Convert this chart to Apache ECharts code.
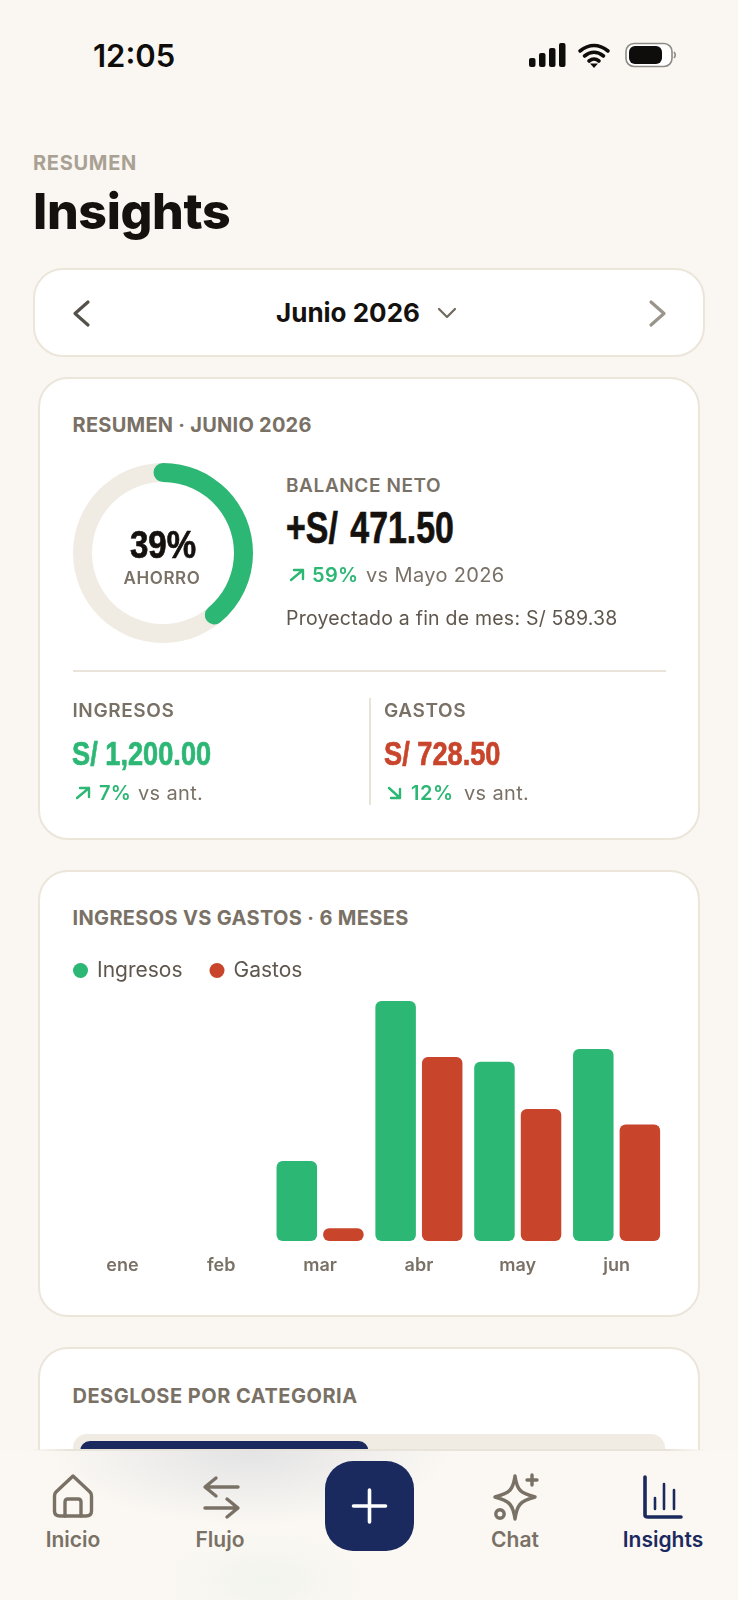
<!DOCTYPE html>
<html lang="es">
<head>
<meta charset="utf-8">
<title>Insights</title>
<script src="https://cdn.jsdelivr.net/npm/echarts@6/dist/echarts.min.js"></script>
<style>
  html, body { margin: 0; padding: 0; background: #faf7f2; }
  #page { position: relative; width: 738px; height: 1600px; overflow: hidden; background: #faf7f2; font-family: Inter, sans-serif; }
  .t { position: absolute; line-height: 1; white-space: nowrap; color: #7a7166; }
  .caps { font-size: 20px; font-weight: 700; letter-spacing: 0.25px; }
  .small { font-size: 19px; font-weight: 600; letter-spacing: 0.6px; }
  .delta { font-size: 20px; font-weight: 600; color: #2db775; letter-spacing: 0.3px; }
  .vs { font-size: 20px; font-weight: 400; letter-spacing: 0.35px; }
  .num { font-family: "Liberation Sans", sans-serif; font-weight: 700; transform-origin: left center; -webkit-text-stroke: 0.7px currentColor; }
  .card { position: absolute; box-sizing: border-box; background: #fff; border: 2px solid #ebe5da; border-radius: 30px; }
  .nav-label { font-size: 21px; font-weight: 600; transform: translateX(-50%); }
  svg { position: absolute; overflow: visible; fill: none; }
  #nav { position: absolute; left: 0; top: 1450px; width: 738px; height: 150px;
    background:
      radial-gradient(ellipse 200px 75px at 250px 0px, rgba(226,226,228,.95), rgba(226,226,228,0) 100%),
      radial-gradient(ellipse 100px 50px at 265px 130px, rgba(236,241,234,.6), rgba(236,241,234,0) 100%),
      #fbf8f3; }
  #nav-line { position: absolute; left: 28px; top: 1449px; width: 680px; height: 2px;
    background: linear-gradient(90deg, rgba(233,228,218,0), #e9e4da 6%, #e9e4da 94%, rgba(233,228,218,0)); }
</style>
</head>
<body>
<div id="page">
  <div class="t" style="left:93px;top:40px;font-size:31px;font-weight:600;color:#0f0d0b">12:05</div>
  <svg style="left:529px;top:43px" width="150" height="26">
    <rect x="0" y="15" width="6.5" height="9" rx="2" fill="#0f0d0b"/>
    <rect x="10" y="10" width="6.5" height="14" rx="2" fill="#0f0d0b"/>
    <rect x="20" y="5" width="6.5" height="19" rx="2" fill="#0f0d0b"/>
    <rect x="30" y="0" width="6.5" height="24" rx="2" fill="#0f0d0b"/>
    <path d="M51 8 Q65 -3 79 8 M55.5 13 Q65 5.5 74.5 13 M60 18 Q65 14 70 18" stroke="#0f0d0b" stroke-width="3.6" stroke-linecap="round"/>
    <path d="M61 20.5 L69 20.5 L65 25 Z" fill="#0f0d0b"/>
    <rect x="97" y="0.5" width="46" height="23" rx="8" stroke="#8e8a84" stroke-width="1.6" fill="#fff"/>
    <rect x="100" y="3" width="33" height="18" rx="6" fill="#0f0d0b"/>
    <path d="M145 9 Q147.5 12 145 15" stroke="#8e8a84" stroke-width="1.6"/>
  </svg>

  <div class="t" style="left:33px;top:153px;font-size:20px;font-weight:700;color:#a9a194;letter-spacing:.7px">RESUMEN</div>
  <div class="t" style="left:33px;top:186px;font-size:50px;font-weight:800;color:#15110e;letter-spacing:-.35px">Insights</div>

  <div class="card" style="left:33px;top:268px;width:672px;height:89px"></div>
  <svg style="left:0;top:0" width="738" height="360">
    <path d="M88 302 L75 313.5 L88 325" stroke="#55504a" stroke-width="3.2" stroke-linecap="round" stroke-linejoin="round"/>
    <path d="M651 302 L664 313.5 L651 325" stroke="#9a948a" stroke-width="3.2" stroke-linecap="round" stroke-linejoin="round"/>
    <path d="M439 309 L447 317 L455 309" stroke="#6f685e" stroke-width="2.2" stroke-linecap="round" stroke-linejoin="round"/>
  </svg>
  <div class="t" style="left:276px;top:300px;font-size:26px;font-weight:700;color:#15110e">Junio 2026</div>

  <!-- resumen -->
  <div class="card" style="left:38px;top:377px;width:662px;height:463px"></div>
  <div class="t caps" style="left:72.5px;top:415px">RESUMEN · JUNIO 2026</div>
  <div id="donut" style="position:absolute;left:63px;top:453px;width:200px;height:200px"></div>
  <div class="t num" style="left:63px;width:200px;text-align:center;top:526px;font-size:38px;color:#15110e;transform-origin:center;transform:scaleX(.87)">39%</div>
  <div class="t" style="left:62px;width:200px;text-align:center;top:570px;font-size:17px;font-weight:600;letter-spacing:.6px">AHORRO</div>
  <div class="t small" style="left:286px;top:476px">BALANCE NETO</div>
  <div class="t num" style="left:286px;top:506px;font-size:44px;color:#15110e;word-spacing:4px;transform:scaleX(.77)">+S/ 471.50</div>
  <svg style="left:0;top:0" width="738" height="830">
    <path d="M291 580 L303 570 M294 570 L303 570 L303 579" stroke="#2db775" stroke-width="2.4" stroke-linecap="round" stroke-linejoin="round"/>
    <path d="M77 798 L89 788 M80 788 L89 788 L89 797" stroke="#2db775" stroke-width="2.4" stroke-linecap="round" stroke-linejoin="round"/>
    <path d="M389 788 L400 798 M400 789 L400 798 L391 798" stroke="#2db775" stroke-width="2.4" stroke-linecap="round" stroke-linejoin="round"/>
  </svg>
  <div class="t delta" style="left:312px;top:565px">59%</div>
  <div class="t vs" style="left:366px;top:565px">vs Mayo 2026</div>
  <div class="t" style="left:286px;top:609px;font-size:19.5px;color:#5f574d;letter-spacing:.22px">Proyectado a fin de mes: S/ 589.38</div>
  <div style="position:absolute;left:72.5px;top:670px;width:593.5px;height:2px;background:#e9e4da"></div>
  <div style="position:absolute;left:369px;top:698px;width:1.5px;height:107px;background:#e9e4da"></div>
  <div class="t small" style="left:72.5px;top:701px">INGRESOS</div>
  <div class="t small" style="left:384px;top:701px">GASTOS</div>
  <div class="t num" style="left:72px;top:736px;font-size:34px;color:#2db775;transform:scaleX(.8)">S/ 1,200.00</div>
  <div class="t num" style="left:384px;top:736px;font-size:34px;color:#c8452c;transform:scaleX(.8)">S/ 728.50</div>
  <div class="t delta" style="left:99px;top:783px">7%</div>
  <div class="t vs" style="left:138px;top:783px">vs ant.</div>
  <div class="t delta" style="left:411px;top:783px;letter-spacing:.6px">12%</div>
  <div class="t vs" style="left:464px;top:783px">vs ant.</div>

  <!-- barras -->
  <div class="card" style="left:38px;top:870px;width:662px;height:447px"></div>
  <div class="t caps" style="left:72.5px;top:908px;letter-spacing:.34px">INGRESOS VS GASTOS · 6 MESES</div>
  <div id="bars" style="position:absolute;left:39px;top:940px;width:661px;height:360px"></div>

  <!-- categorias -->
  <div class="card" style="left:38px;top:1347px;width:662px;height:300px"></div>
  <div class="t caps" style="left:72.5px;top:1386px;letter-spacing:.5px">DESGLOSE POR CATEGORIA</div>
  <div style="position:absolute;left:73px;top:1434px;width:592px;height:60px;border-radius:14px;background:#f0ece4"></div>
  <div id="share" style="position:absolute;left:80px;top:1441px;width:577px;height:40px"></div>

  <div id="nav"></div>
  <div id="nav-line"></div>
  <svg style="left:0;top:1460px" width="738" height="70" stroke="#7a7166" stroke-width="3.4" stroke-linecap="round" stroke-linejoin="round">
    <path d="M73 16 L56 32 Q54.5 33.5 54.5 36 L54.5 51 Q54.5 56 60 56 L86 56 Q91.5 56 91.5 51 L91.5 36 Q91.5 33.5 90 32 Z"/>
    <path d="M65 56 L65 42 Q65 39 68 39 L78 39 Q81 39 81 42 L81 56"/>
    <path d="M238 27 L206 27 M216 18 L205 27 L216 36"/>
    <path d="M205 48 L237 48 M227 39 L238 48 L227 57"/>
    <path d="M515 16 C517 30 520 33 535 37 C520 41 517 45 515 59 C513 45 510 41 495 37 C510 33 513 30 515 16 Z"/>
    <path d="M532 15 L532 25 M527 20 L537 20"/>
    <circle cx="500" cy="54" r="4.2"/>
    <g stroke="#1b2a5e">
      <path d="M645 17 L645 55 Q645 57 648 57 L681 57" stroke-width="3.6"/>
      <path d="M655 38 L655 49 M664 24 L664 49 M674 30 L674 49" stroke-width="2.6"/>
    </g>
  </svg>
  <div style="position:absolute;left:325px;top:1461px;width:89px;height:90px;border-radius:28px;background:#1b2a5e"></div>
  <svg style="left:325px;top:1461px" width="89" height="90" stroke="#fff" stroke-width="3.6" stroke-linecap="round">
    <path d="M44.5 29 L44.5 61 M28.5 45 L60.5 45"/>
  </svg>
  <div class="t nav-label" style="left:73px;top:1529px">Inicio</div>
  <div class="t nav-label" style="left:220px;top:1529px">Flujo</div>
  <div class="t nav-label" style="left:515px;top:1529px">Chat</div>
  <div class="t nav-label" style="left:663px;top:1529px;color:#1b2a5e">Insights</div>
</div>
<script>
const months = ["ene", "feb", "mar", "abr", "may", "jun"];
const ingresos = [0, 0, 500, 1500, 1120, 1200];
const gastos = [0, 0, 80, 1150, 825, 728.5];
const ahorroPct = 39;
const categoriaPct = [50];

const GREEN = "#2db775";
const RED = "#c8452c";
const NAVY = "#1b2a5e";

const donut = echarts.init(document.getElementById("donut"));
donut.setOption({
  animation: false,
  series: [{
    type: "gauge",
    center: ["50%", "50%"],
    radius: 90,
    startAngle: 90,
    endAngle: -270,
    min: 0,
    max: 100,
    pointer: { show: false },
    axisTick: { show: false },
    splitLine: { show: false },
    axisLabel: { show: false },
    axisLine: { lineStyle: { width: 19, color: [[1, "#f0ece4"]] } },
    progress: { show: true, roundCap: true, width: 19, itemStyle: { color: GREEN } },
    detail: { show: false },
    title: { show: false },
    data: [{ value: ahorroPct }]
  }]
});

const bars = echarts.init(document.getElementById("bars"));
bars.setOption({
  animation: false,
  legend: {
    left: 29,
    top: 15,
    icon: "circle",
    itemWidth: 15,
    itemHeight: 15,
    itemGap: 27,
    textStyle: { fontFamily: "Inter", fontSize: 21, color: "#5f574d", padding: [0, 0, 0, 4] }
  },
  grid: { left: 34, top: 61, width: 593, height: 240 },
  xAxis: {
    type: "category",
    data: months,
    axisLine: { show: false },
    axisTick: { show: false },
    axisLabel: { fontFamily: "Inter", fontSize: 18, fontWeight: 600, color: "#7a7166", margin: 16 }
  },
  yAxis: { type: "value", min: 0, max: 1500, show: false },
  series: [
    { name: "Ingresos", type: "bar", data: ingresos, barWidth: 40.5, barGap: "15%", itemStyle: { color: GREEN, borderRadius: 6 } },
    { name: "Gastos", type: "bar", data: gastos, barWidth: 40.5, itemStyle: { color: RED, borderRadius: 6 } }
  ]
});

const share = echarts.init(document.getElementById("share"));
share.setOption({
  animation: false,
  grid: { left: 0, right: 0, top: 0, bottom: 0 },
  xAxis: { type: "value", min: 0, max: 100, show: false },
  yAxis: { type: "category", data: ["cat"], show: false },
  series: [{ type: "bar", data: categoriaPct, barWidth: 40, itemStyle: { color: NAVY, borderRadius: 10 } }]
});
</script>
</body>
</html>
